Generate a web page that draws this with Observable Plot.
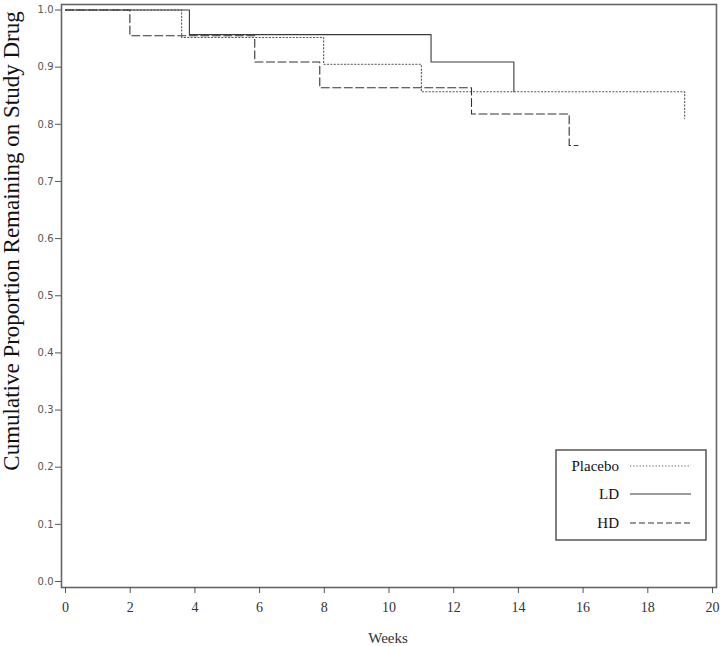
<!DOCTYPE html>
<html><head><meta charset="utf-8">
<script src="https://cdn.jsdelivr.net/npm/d3@7"></script>
<script src="https://cdn.jsdelivr.net/npm/@observablehq/plot@0.6"></script>
<style>body{margin:0;background:#fff}</style>
</head><body><div id="chart"></div>
<script>
// ---- data ----
const groups = ["Placebo", "LD", "HD"];
const placeboWeeks = [0, 3.59, 7.98, 11.0, 19.14];
const placeboSurv  = [1, 0.952, 0.905, 0.857, 0.810];
const ldWeeks = [0, 3.83, 11.30, 13.86];
const ldSurv  = [1, 0.957, 0.909, 0.857];
const hdWeeks = [0, 1.99, 5.85, 7.86, 12.55, 15.57, 15.84];
const hdSurv  = [1, 0.955, 0.909, 0.864, 0.818, 0.763, 0.763];
const xTicks = [0, 2, 4, 6, 8, 10, 12, 14, 16, 18, 20];
const yTicks = [0, 0.1, 0.2, 0.3, 0.4, 0.5, 0.6, 0.7, 0.8, 0.9, 1.0];
const xTitle = "Weeks";
const yTitle = "Cumulative Proportion Remaining on Study Drug";

// ---- styles ----
const styles = {
  Placebo: {stroke: "#555", dash: "1.2,2.2"},
  LD: {stroke: "#3a3a3a", dash: null},
  HD: {stroke: "#333", dash: "8,3.5"}
};
const legendDash = {Placebo: "1.2,2", LD: null, HD: "6,3"};

const series = {
  Placebo: placeboWeeks.map((t, i) => ({group: "Placebo", t, s: placeboSurv[i]})),
  LD: ldWeeks.map((t, i) => ({group: "LD", t, s: ldSurv[i]})),
  HD: hdWeeks.map((t, i) => ({group: "HD", t, s: hdSurv[i]}))
};

const W = 720, H = 646;
const chart = Plot.plot({
  width: W, height: H,
  marginLeft: 61, marginRight: 4, marginTop: 4, marginBottom: 59,
  style: {background: "#fff", overflow: "visible"},
  x: {domain: [0, 20], insetLeft: 4, insetRight: 4},
  y: {domain: [0, 1], insetTop: 5.5, insetBottom: 6},
  marks: [
    Plot.frame({stroke: "#666", strokeWidth: 1.6}),
    Plot.axisX({ticks: xTicks, tickSize: 6, tickPadding: 9, label: null,
      fontFamily: "Liberation Serif", fontSize: 14, stroke: "#555", color: "#333", tickFormat: d => String(d)}),
    Plot.axisY({ticks: yTicks, tickSize: 6, tickPadding: 2, label: null,
      fontFamily: "DejaVu Sans", fontSize: 10, stroke: "#555", color: "#555", tickFormat: d => d.toFixed(1)}),
    ...groups.map(g => Plot.line(series[g], {
      x: "t", y: "s", curve: "step-after",
      stroke: styles[g].stroke, strokeWidth: 1.1,
      strokeDasharray: styles[g].dash || undefined
    }))
  ]
});
document.getElementById("chart").appendChild(chart);

// ---- titles and legend (decoration) ----
const svg = d3.select(chart);
svg.append("text")
  .attr("transform", "translate(19,241) rotate(-90)")
  .attr("text-anchor", "middle")
  .attr("font-family", "Liberation Serif").attr("font-size", 23).attr("fill", "#111")
  .text(yTitle);
svg.append("text")
  .attr("x", 388).attr("y", 643)
  .attr("text-anchor", "middle")
  .attr("font-family", "Liberation Serif").attr("font-size", 15).attr("fill", "#333")
  .text(xTitle);

const lg = svg.append("g");
lg.append("rect").attr("x", 556).attr("y", 450).attr("width", 150).attr("height", 90)
  .attr("fill", "#fff").attr("stroke", "#555").attr("stroke-width", 1.5);
const rowY = [466, 494, 523];
groups.forEach((g, i) => {
  lg.append("text").attr("x", 619).attr("y", rowY[i] + 5)
    .attr("text-anchor", "end").attr("font-family", "Liberation Serif").attr("font-size", 15)
    .attr("fill", "#111").text(g);
  const ln = lg.append("line").attr("x1", 630).attr("x2", 691).attr("y1", rowY[i]).attr("y2", rowY[i])
    .attr("stroke", styles[g].stroke).attr("stroke-width", 1.2);
  if (legendDash[g]) ln.attr("stroke-dasharray", legendDash[g]);
});
</script>
</body></html>
